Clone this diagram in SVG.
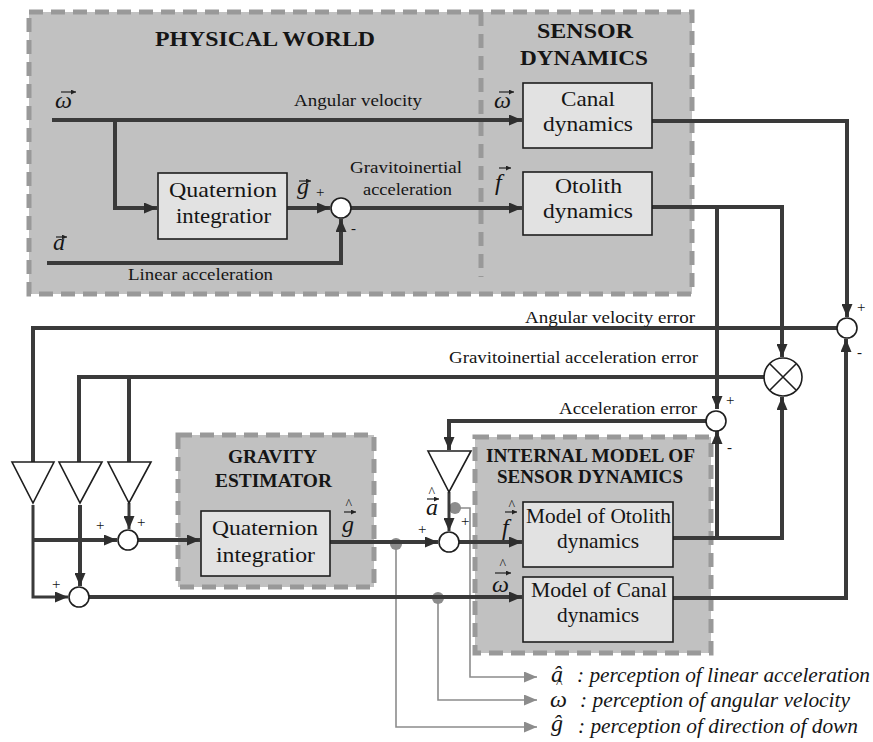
<svg xmlns="http://www.w3.org/2000/svg" width="873" height="742" viewBox="0 0 873 742">
<defs>
<style>
.c{fill:#c1c1c1;stroke:#999;stroke-width:5;stroke-dasharray:14 8}
.d{fill:none;stroke:#999;stroke-width:5;stroke-dasharray:14 8}
.b{fill:#e2e2e2;stroke:#1e1e1e;stroke-width:1.6}
.w{fill:none;stroke:#3a3a3a;stroke-width:4}
.w3{fill:none;stroke:#3a3a3a;stroke-width:3}
.g{fill:none;stroke:#8c8c8c;stroke-width:1.6}
.s{fill:#fff;stroke:#1e1e1e;stroke-width:1.6}
.acc{fill:none;stroke:#222;stroke-width:1.2}
text{font-family:"Liberation Serif","Times New Roman","DejaVu Serif",serif;fill:#151515}
.h{font-weight:bold}
.i{font-style:italic}
</style>
<marker id="ah" markerUnits="userSpaceOnUse" markerWidth="13" markerHeight="11" refX="13" refY="5.5" orient="auto"><path d="M0,0 L13,5.5 L0,11 z" fill="#2e2e2e"/></marker>
<marker id="ag" markerUnits="userSpaceOnUse" markerWidth="13" markerHeight="11" refX="13" refY="5.5" orient="auto"><path d="M0,0 L13,5.5 L0,11 z" fill="#8c8c8c"/></marker>
<marker id="am" markerUnits="userSpaceOnUse" markerWidth="5" markerHeight="5" refX="5" refY="2.5" orient="auto"><path d="M0,0 L5,2.5 L0,5 z" fill="#222"/></marker>
</defs>

<!-- containers -->
<g id="physical-world">
<rect class="c" x="29" y="12" width="663" height="282"/>
<line class="d" x1="481" y1="12" x2="481" y2="277"/>
<text class="h" x="155" y="46" font-size="20" textLength="220" lengthAdjust="spacingAndGlyphs">PHYSICAL WORLD</text>
<text class="h" x="537" y="38" font-size="20" textLength="96" lengthAdjust="spacingAndGlyphs">SENSOR</text>
<text class="h" x="520" y="65" font-size="20" textLength="128" lengthAdjust="spacingAndGlyphs">DYNAMICS</text>
</g>
<g id="gravity-estimator">
<rect class="c" x="178" y="435" width="196" height="152"/>
<text class="h" x="228" y="463" font-size="18" textLength="89" lengthAdjust="spacingAndGlyphs">GRAVITY</text>
<text class="h" x="215" y="487" font-size="18" textLength="117" lengthAdjust="spacingAndGlyphs">ESTIMATOR</text>
</g>
<g id="internal-model">
<rect class="c" x="475" y="437" width="236" height="216"/>
<text class="h" x="486" y="462" font-size="18" textLength="209" lengthAdjust="spacingAndGlyphs">INTERNAL MODEL OF</text>
<text class="h" x="497" y="483" font-size="18" textLength="186" lengthAdjust="spacingAndGlyphs">SENSOR DYNAMICS</text>
</g>

<!-- perception (gray) connectors -->
<g id="perception-lines">
<circle cx="455" cy="508" r="6" fill="#8c8c8c"/>
<circle cx="396" cy="544" r="6" fill="#8c8c8c"/>
<circle cx="438" cy="598" r="6" fill="#8c8c8c"/>
<path class="g" d="M455,508 H470 V677 H537" marker-end="url(#ag)"/>
<path class="g" d="M438,598 V700 H537" marker-end="url(#ag)"/>
<path class="g" d="M396,544 V727 H537" marker-end="url(#ag)"/>
</g>

<!-- connectors -->
<g id="connectors">
<path class="w" d="M52,120 H522" marker-end="url(#ah)"/>
<path class="w" d="M115,120 V208 H157" marker-end="url(#ah)"/>
<path class="w" d="M287,208 H330" marker-end="url(#ah)"/>
<path class="w" d="M47,263 H341 V219" marker-end="url(#ah)"/>
<path class="w" d="M351,208 H522" marker-end="url(#ah)"/>
<path class="w" d="M652,121 H847 V317" marker-end="url(#ah)"/>
<path class="w" d="M652,207 H782 V357" marker-end="url(#ah)"/>
<path class="w" d="M717,207 V409" marker-end="url(#ah)"/>
<path class="w" d="M837,328 H33 V462"/>
<path class="w" d="M764,377 H79 V462"/>
<path class="w" d="M129,377 V462"/>
<path class="w" d="M706,421 H449 V450" marker-end="url(#ah)"/>
<path class="w3" d="M449,492 V531" marker-end="url(#ah)"/>
<path class="w" d="M330,542 H438" marker-end="url(#ah)"/>
<path class="w" d="M459,542 H522" marker-end="url(#ah)"/>
<path class="w" d="M673,538 H782 V397" marker-end="url(#ah)"/>
<path class="w" d="M717,538 V431" marker-end="url(#ah)"/>
<path class="w" d="M673,598 H846 V339" marker-end="url(#ah)"/>
<path class="w3" d="M33,505 V597 H68" marker-end="url(#ah)"/>
<path class="w" d="M33,540 H117" marker-end="url(#ah)"/>
<path class="w" d="M80,505 V586" marker-end="url(#ah)"/>
<path class="w3" d="M129,503 V529" marker-end="url(#ah)"/>
<path class="w" d="M138,540 H200" marker-end="url(#ah)"/>
<path class="w" d="M89,597 H522" marker-end="url(#ah)"/>
</g>

<!-- blocks -->
<g id="quaternion-physical">
<rect class="b" x="158" y="173" width="129" height="66"/>
<text x="169" y="197" font-size="22" textLength="108" lengthAdjust="spacingAndGlyphs">Quaternion</text>
<text x="176" y="223" font-size="22" textLength="95" lengthAdjust="spacingAndGlyphs">integratior</text>
</g>
<g id="canal-dynamics">
<rect class="b" x="523" y="83" width="129" height="65"/>
<text x="561" y="106" font-size="22" textLength="54" lengthAdjust="spacingAndGlyphs">Canal</text>
<text x="543" y="131" font-size="22" textLength="90" lengthAdjust="spacingAndGlyphs">dynamics</text>
</g>
<g id="otolith-dynamics">
<rect class="b" x="523" y="172" width="129" height="63"/>
<text x="555" y="193" font-size="22" textLength="67" lengthAdjust="spacingAndGlyphs">Otolith</text>
<text x="543" y="218" font-size="22" textLength="90" lengthAdjust="spacingAndGlyphs">dynamics</text>
</g>
<g id="quaternion-gravity">
<rect class="b" x="201" y="511" width="129" height="65"/>
<text x="212" y="535" font-size="22" textLength="106" lengthAdjust="spacingAndGlyphs">Quaternion</text>
<text x="216" y="562" font-size="22" textLength="99" lengthAdjust="spacingAndGlyphs">integratior</text>
</g>
<g id="model-otolith">
<rect class="b" x="523" y="502" width="150" height="65"/>
<text x="526" y="523" font-size="21" textLength="145" lengthAdjust="spacingAndGlyphs">Model of Otolith</text>
<text x="557" y="548" font-size="21" textLength="82" lengthAdjust="spacingAndGlyphs">dynamics</text>
</g>
<g id="model-canal">
<rect class="b" x="523" y="577" width="150" height="65"/>
<text x="531" y="597" font-size="21" textLength="136" lengthAdjust="spacingAndGlyphs">Model of Canal</text>
<text x="557" y="622" font-size="21" textLength="82" lengthAdjust="spacingAndGlyphs">dynamics</text>
</g>

<!-- summing junctions -->
<g id="sum-physical"><circle class="s" cx="341" cy="208" r="10"/></g>
<g id="sum-angular-error"><circle class="s" cx="847" cy="328" r="10"/></g>
<g id="sum-accel-error"><circle class="s" cx="716" cy="421" r="10"/></g>
<g id="multiplier"><circle class="s" cx="783" cy="377" r="19"/><path d="M770,364 L796,390 M796,364 L770,390" stroke="#1e1e1e" stroke-width="1.6"/></g>
<g id="sum-accel-hat"><circle class="s" cx="449" cy="542" r="10"/></g>
<g id="sum-gravity"><circle class="s" cx="128" cy="540" r="10"/></g>
<g id="sum-canal"><circle class="s" cx="79" cy="597" r="10"/></g>

<!-- gains -->
<g id="gain-1"><polygon class="s" points="12,462 54,462 33,503"/></g>
<g id="gain-2"><polygon class="s" points="59,462 102,462 80,503"/></g>
<g id="gain-3"><polygon class="s" points="108,462 151,462 129,503"/></g>
<g id="gain-4"><polygon class="s" points="428,451 471,451 449,492"/></g>

<!-- labels -->
<g id="labels">
<text x="294" y="106" font-size="17" textLength="128" lengthAdjust="spacingAndGlyphs">Angular velocity</text>
<text x="350" y="173" font-size="17" textLength="112" lengthAdjust="spacingAndGlyphs">Gravitoinertial</text>
<text x="363" y="195" font-size="17" textLength="89" lengthAdjust="spacingAndGlyphs">acceleration</text>
<text x="128" y="280" font-size="17" textLength="145" lengthAdjust="spacingAndGlyphs">Linear acceleration</text>
<text x="525" y="323" font-size="17" textLength="170" lengthAdjust="spacingAndGlyphs">Angular velocity error</text>
<text x="449" y="363" font-size="17" textLength="249" lengthAdjust="spacingAndGlyphs">Gravitoinertial acceleration error</text>
<text x="559" y="414" font-size="17" textLength="138" lengthAdjust="spacingAndGlyphs">Acceleration error</text>

<!-- signs -->
<g font-size="15">
<text x="316" y="197">+</text>
<text x="351" y="233">-</text>
<text x="857" y="312">+</text>
<text x="857" y="357">-</text>
<text x="726" y="405">+</text>
<text x="727" y="452">-</text>
<text x="418" y="534">+</text>
<text x="461" y="526">+</text>
<text x="96" y="530">+</text>
<text x="137" y="527">+</text>
<text x="52" y="589">+</text>
</g>

<!-- vector symbols -->
<g class="i" font-size="24">
<text x="55" y="108">ω</text>
<text x="53" y="250">a</text>
<text x="297" y="194">g</text>
<text x="494" y="108">ω</text>
<text x="495" y="190">f</text>
<text x="342" y="532">g</text>
<text x="502" y="535">f</text>
<text x="492" y="592">ω</text>
<text x="426" y="515">a</text>
</g>
<g font-size="14">
<text x="345.5" y="508.5">^</text>
<text x="508.5" y="510">^</text>
<text x="499.5" y="569">^</text>
<text x="428.5" y="496.5">^</text>
</g>
<g class="acc">
<path d="M61,92 H76" marker-end="url(#am)"/>
<path d="M56,237 H67" marker-end="url(#am)"/>
<path d="M299,181 H311" marker-end="url(#am)"/>
<path d="M499,92 H514" marker-end="url(#am)"/>
<path d="M499,168 H511" marker-end="url(#am)"/>
<path d="M344,512 H356" marker-end="url(#am)"/>
<path d="M505,512 H517" marker-end="url(#am)"/>
<path d="M495,573 H511" marker-end="url(#am)"/>
<path d="M427,499 H439" marker-end="url(#am)"/>
</g>

<!-- legend -->
<g class="i">
<text x="551" y="682" font-size="24">â</text>
<text x="577" y="682" font-size="20" textLength="293" lengthAdjust="spacingAndGlyphs">: perception of linear acceleration</text>
<text x="550" y="707" font-size="24">ω</text>
<text x="556" y="688" font-size="14" font-style="normal">^</text>
<text x="580" y="707" font-size="20" textLength="270" lengthAdjust="spacingAndGlyphs">: perception of angular velocity</text>
<text x="551" y="731" font-size="24">ĝ</text>
<text x="578" y="733" font-size="20" textLength="280" lengthAdjust="spacingAndGlyphs">: perception of direction of down</text>
</g>
</g>
</svg>
